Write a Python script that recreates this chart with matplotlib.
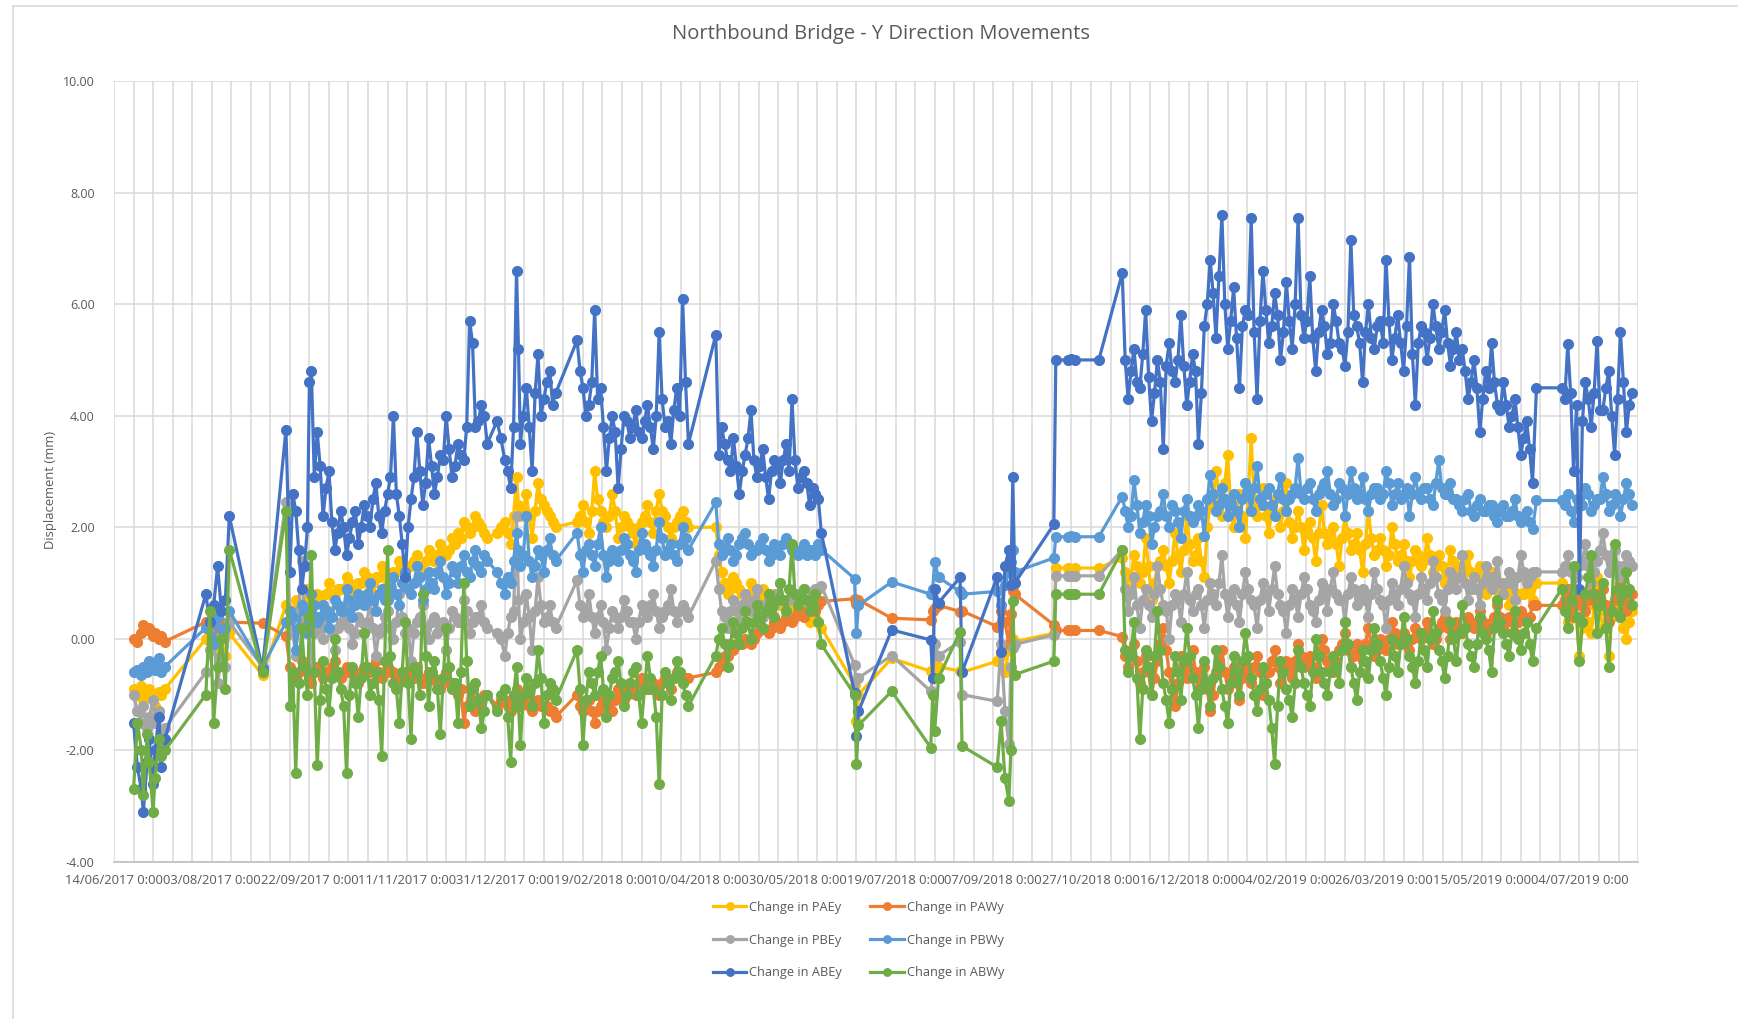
import datetime as dt
import matplotlib
matplotlib.use("Agg")
import matplotlib.pyplot as plt
import matplotlib.dates as mdates
import pandas as pd
from matplotlib.lines import Line2D
from matplotlib.ticker import FixedLocator, FuncFormatter

# Survey epoch; reading times are given in days after it
start = dt.datetime(2017, 6, 14)

# ---- morning readings ----
day_offset = [
    10, 12, 14, 15, 17, 18, 20, 21, 23, 24, 26,
    47, 49, 51, 53, 55, 57, 59,
    76,
    88, 90, 93, 96, 99, 101, 104, 107, 110, 113, 116, 119, 122, 125, 128, 131, 134, 137,
    140, 143, 146, 149, 152, 155, 158, 161, 164, 167, 170, 173, 176, 179, 182, 185, 188, 191,
    196, 200, 203, 206, 208, 211, 214, 217, 220, 223, 226,
    237, 240, 243, 246, 249, 252, 255, 258, 261, 264, 267, 270, 273, 276, 279, 282, 285, 288, 291, 294,
    308, 311, 314, 317, 320, 323, 326, 329, 332, 335, 338, 341, 344, 347, 350, 353, 356, 359, 362,
    379, 380, 381, 398, 418, 419, 420, 422, 433, 434, 452, 454, 456, 458, 459, 460, 461,
    481, 482, 488, 490, 492, 504,
    516, 519, 522, 525, 528, 531, 534, 537, 540, 543, 546, 549, 552, 555, 558, 561, 564, 567,
    570, 573, 576, 579, 582, 585, 588, 591, 594, 597, 600, 603, 606, 609, 612, 615, 618, 621,
    624, 627, 630, 633, 636, 639, 642, 645, 648, 651, 654, 657, 660, 663, 666, 669, 672, 675,
    678, 681, 684, 687, 690, 693, 696, 699, 702, 705, 708, 711, 714, 717, 720, 723, 726, 728,
    741, 744, 747, 750, 753, 756, 759, 762, 765, 768, 771, 774, 777,
]

pae_y = [
    -0.9, -1.0, -0.85, -1.1, -0.95, -0.9, -1.05, -1.2, -0.95, -1.0, -0.9,
    0.0, 0.1, -0.2, 0.2, 0.0, -0.3, 0.1,
    -0.65,
    0.6, 0.2, 0.7, 0.4, 0.9, 0.3, 0.8, 0.6, 1.0, 0.8, 0.9, 1.1, 0.8, 1.0, 1.2, 0.9, 1.1, 1.3,
    1.0, 1.2, 1.4, 1.1, 1.3, 1.5, 1.2, 1.6, 1.4, 1.7, 1.5, 1.8, 1.9, 2.1, 1.9, 2.2, 2.0, 1.8,
    1.9, 2.1, 1.7, 2.9, 2.2, 2.6, 1.8, 2.8, 2.4, 2.2, 2.0,
    2.1, 2.4, 1.9, 3.0, 2.3, 2.0, 2.6, 1.8, 2.2, 2.0, 1.7, 2.1, 2.4, 1.9, 2.6, 2.2, 1.8, 2.1, 2.3, 2.0,
    2.0, 1.2, 0.8, 1.1, 0.9, 0.6, 1.0, 0.7, 0.9, 0.5, 0.8, 0.6, 0.7, 0.4, 0.6, 0.5, 0.3, 0.4, 0.2,
    -0.82, -1.48, -1.0, -0.35, -0.58, -0.6, -0.45, -0.5, -0.58, -0.6, -0.4, -0.3, -0.6, -0.2, -0.1, 0.0, -0.05,
    0.1, 1.27, 1.27, 1.26, 1.27, 1.27,
    1.45, 0.8, 1.5, 1.0, 1.8, 0.7, 1.3, 1.6, 1.0, 1.9, 1.2, 2.2, 1.4, 1.8, 1.1, 2.4, 3.0, 2.2,
    3.3, 2.0, 2.6, 1.8, 3.6, 2.2, 2.7, 1.9, 2.5, 2.0, 2.8, 1.8, 2.3, 1.6, 2.1, 1.4, 2.4, 1.7,
    2.0, 1.3, 2.2, 1.6, 1.9, 1.2, 2.3, 1.5, 1.8, 1.3, 2.0, 1.4, 1.7, 1.1, 1.6, 1.3, 1.8, 1.2,
    1.5, 1.0, 1.6, 1.3, 1.1, 1.5, 0.9, 1.3, 0.8, 1.2, 0.7, 1.0, 0.6, 1.1, 0.8, 0.9, 0.7, 1.0,
    1.0, 0.3, 0.9, -0.3, 0.6, 0.1, 1.1, 0.2, -0.3, 0.7, 0.4, 0.0, 0.5,
]

paw_y = [
    0.0, -0.05, 0.1, 0.25, 0.15, 0.2, 0.05, 0.1, 0.0, 0.05, -0.05,
    0.3, 0.25, 0.3, 0.2, 0.3, 0.25, 0.3,
    0.28,
    0.05, -0.5, -0.7, -0.4, -0.6, -0.8, -0.5, -0.7, -0.6, -0.4, -0.7, -0.5, -0.6, -0.8, -0.5, -0.6, -0.4, -0.7,
    -0.5, -0.6, -0.8, -0.6, -0.7, -0.5, -0.8, -0.6, -0.7, -0.9, -0.6, -0.8, -1.0, -1.5, -0.9, -1.3, -1.1, -1.0,
    -1.2, -1.1, -1.3, -0.9, -1.2, -1.0, -1.3, -1.1, -1.2, -1.3, -1.4,
    -1.0, -1.3, -1.1, -1.5, -1.2, -1.0, -1.3, -0.9, -1.1, -0.8, -1.0, -0.7, -0.9, -0.8, -1.0, -0.7, -0.9, -0.6, -0.8, -0.7,
    -0.6, -0.4, -0.3, -0.2, -0.1, 0.0, -0.1, 0.1, 0.2, 0.1, 0.3, 0.2, 0.4, 0.3, 0.5, 0.4, 0.6, 0.5, 0.67,
    0.72, 0.62, 0.7, 0.37, 0.34, 0.5, 0.55, 0.6, 0.49, 0.5, 0.22, 0.5, 0.3, -0.1, 0.45, 0.85, 0.8,
    0.25, 0.15, 0.15, 0.15, 0.15, 0.15,
    0.04, -0.5, -0.1, -0.8, -0.3, -1.0, -0.4, 0.2, -0.6, -1.2, -0.3, -0.7, -0.2, -0.9, -0.5, -1.3, -0.6, -0.2,
    -0.9, -0.5, -1.1, -0.4, -0.8, -0.3, -1.0, -0.6, -0.2, -0.8, -0.4, -0.7, -0.1, -0.5, -0.3, -0.7, 0.0, -0.4,
    -0.6, -0.2, 0.1, -0.5, -0.1, -0.4, 0.2, -0.3, 0.0, -0.2, 0.3, -0.1, 0.1, -0.2, 0.2, 0.0, 0.3, -0.1,
    0.2, 0.4, 0.0, 0.3, 0.1, 0.4, 0.2, 0.5, 0.1, 0.3, 0.6, 0.2, 0.4, 0.1, 0.5, 0.3, 0.6, 0.6,
    0.6, 0.9, 0.4, 0.8, 0.5, 1.0, 0.6, 0.9, 0.3, 0.7, 1.0, 0.5, 0.8,
]

pbe_y = [
    -1.0, -1.3, -1.5, -1.2, -1.6, -1.4, -1.1, -1.5, -1.3, -1.7, -1.6,
    -0.6, -0.2, 0.0, -0.8, -0.3, -0.5, 0.3,
    -0.5,
    2.45, 0.3, -0.3, 1.4, 0.2, -0.5, 0.4, 0.0, 0.5, -0.2, 0.3, 0.6, -0.1, 0.4, 0.1, 0.7, -0.3, 0.2,
    0.5, 0.0, 0.8, 0.1, -0.4, 0.3, 0.6, 0.0, 0.4, 0.2, -0.2, 0.5, 0.3, 0.7, 0.1, 0.4, 0.6, 0.2,
    0.1, -0.3, 0.4, 2.2, 0.0, 0.8, -0.2, 1.1, 0.3, 0.6, 0.2,
    1.05, 0.4, 0.8, 0.1, 0.6, -0.2, 0.5, 0.2, 0.7, 0.3, 0.0, 0.6, 0.4, 0.8, 0.2, 0.5, 0.9, 0.3, 0.6, 0.4,
    1.4, 0.5, 0.2, 0.7, 0.3, 0.8, 0.5, 0.9, 0.4, 0.7, 0.6, 1.0, 0.5, 0.8, 0.7, 0.9, 0.6, 0.9, 0.95,
    -0.46, -1.0, -0.7, -0.3, -0.94, -0.7, -0.1, -0.3, -0.05, -1.0, -1.12, -0.1, -1.3, -1.89, -0.5, -0.17, -0.1,
    0.07, 1.13, 1.13, 1.13, 1.13, 1.13,
    1.6, 0.5, 1.1, 0.2, 0.9, 0.4, 1.3, 0.6, 0.0, 0.8, 0.3, 1.2, 0.5, 0.9, 0.2, 1.0, 0.6, 1.5,
    0.4, 0.9, 0.3, 1.2, 0.7, 0.2, 1.0, 0.5, 1.3, 0.6, 0.1, 0.9, 0.4, 1.1, 0.6, 0.3, 1.0, 0.5,
    1.2, 0.7, 0.3, 1.1, 0.6, 0.9, 0.4, 1.2, 0.7, 0.2, 1.0, 0.6, 1.3, 0.8, 0.4, 1.1, 0.7, 1.4,
    0.8, 0.5, 1.2, 0.9, 1.5, 0.7, 1.1, 0.6, 1.3, 0.9, 1.4, 0.8, 1.2, 0.7, 1.5, 1.0, 1.2, 1.2,
    1.2, 1.5, 0.9, 1.3, 1.7, 1.0, 1.4, 1.9, 1.2, 1.6, 1.1, 1.5, 1.3,
]

pbw_y = [
    -0.6, -0.55, -0.65, -0.5, -0.6, -0.4, -0.45, -0.55, -0.35, -0.6, -0.5,
    0.2, 0.3, -0.1, 0.4, 0.0, 0.2, 0.5,
    -0.5,
    0.3, 0.5, -0.2, 0.6, 0.1, 0.8, 0.3, 0.6, 0.2, 0.7, 0.5, 0.9, 0.4, 0.8, 0.6, 1.0, 0.5, 0.9,
    0.7, 1.1, 0.6, 1.2, 0.8, 1.3, 0.7, 1.2, 0.9, 1.4, 0.8, 1.3, 1.0, 1.5, 1.1, 1.6, 1.2, 1.4,
    1.2, 0.8, 1.0, 1.9, 1.3, 2.2, 1.1, 1.6, 1.2, 1.8, 1.4,
    1.9, 1.2, 1.7, 1.3, 2.0, 1.1, 1.6, 1.4, 1.8, 1.5, 1.2, 1.9, 1.6, 1.3, 2.1, 1.5, 1.7, 1.4, 2.0, 1.6,
    2.45, 1.5, 1.8, 1.4, 1.7, 1.9, 1.5, 1.6, 1.8, 1.4, 1.7, 1.5, 1.8, 1.6, 1.5, 1.7, 1.6, 1.5, 1.6,
    1.08, 0.1, 0.6, 1.02, 0.8, 0.9, 1.38, 1.1, 0.85, 0.8, 0.85, 0.6, 0.96, 1.2, 1.38, 1.6, 1.2,
    1.45, 1.83, 1.83, 1.84, 1.83, 1.83,
    2.55, 2.0, 2.84, 1.9, 2.4, 1.7, 2.2, 2.6, 2.0, 2.3, 1.8, 2.5, 2.1, 2.4, 1.85, 2.93, 2.3, 2.7,
    2.2, 2.6, 2.0, 2.8, 2.3, 3.1, 2.4, 2.7, 2.2, 2.9, 2.3, 2.6, 3.25, 2.5, 2.8, 2.3, 2.7, 3.0,
    2.4, 2.8, 2.2, 3.0, 2.5, 2.9, 2.3, 2.7, 2.5, 3.0, 2.4, 2.8, 2.6, 2.2, 2.9, 2.5, 2.7, 2.4,
    3.2, 2.6, 2.8, 2.5, 2.3, 2.6, 2.2, 2.5, 2.3, 2.4, 2.1, 2.4, 2.2, 2.5, 2.1, 2.3, 1.97, 2.48,
    2.48, 2.6, 2.1, 2.4, 2.7, 2.3, 2.5, 2.9, 2.3, 2.6, 2.2, 2.8, 2.4,
]

abe_y = [
    -1.5, -2.3, -2.7, -3.1, -2.2, -1.8, -2.6, -2.0, -1.4, -2.3, -1.8,
    0.8, 0.3, 0.6, 1.3, 0.5, 0.7, 2.2,
    -0.55,
    3.75, 1.2, 2.3, 0.9, 2.0, 4.8, 3.7, 2.2, 3.0, 1.6, 2.3, 1.5, 2.1, 1.7, 2.4, 2.0, 2.8, 1.9,
    2.6, 4.0, 2.2, 1.1, 2.5, 3.7, 2.4, 3.6, 2.6, 3.3, 4.0, 2.9, 3.5, 3.2, 5.7, 3.8, 4.2, 3.5,
    3.9, 3.2, 2.7, 6.6, 3.5, 4.5, 3.0, 5.1, 4.3, 4.8, 4.4,
    5.35, 4.5, 4.2, 5.9, 4.5, 3.0, 4.0, 2.7, 4.0, 3.6, 4.1, 3.6, 4.2, 3.4, 5.5, 3.8, 3.5, 4.5, 6.1, 3.5,
    5.45, 3.8, 3.2, 3.6, 2.6, 3.3, 4.1, 2.9, 3.4, 2.5, 3.2, 2.8, 3.5, 4.3, 2.7, 3.0, 2.4, 2.6, 1.9,
    -0.97, -1.74, -1.3, 0.16, -0.02, -0.7, 0.9, 0.65, 1.1, -0.6, 1.11, -0.23, 1.3, 1.6, 0.96, 2.9, 1.0,
    2.05, 5.0, 5.0, 5.02, 5.0, 5.0,
    6.55, 4.3, 5.2, 4.5, 5.9, 3.9, 5.0, 3.4, 5.3, 4.6, 5.8, 4.2, 5.1, 3.5, 5.6, 6.8, 5.4, 7.6,
    5.2, 6.3, 4.5, 5.9, 7.55, 4.3, 6.6, 5.3, 6.2, 5.0, 6.4, 5.2, 7.55, 5.4, 6.5, 4.8, 5.9, 5.1,
    6.0, 5.3, 4.9, 7.15, 5.6, 4.6, 6.0, 5.2, 5.7, 6.8, 5.0, 5.8, 4.8, 6.85, 4.2, 5.6, 5.0, 6.0,
    5.2, 5.9, 4.9, 5.5, 5.2, 4.3, 5.0, 3.7, 4.8, 5.3, 4.2, 4.6, 3.8, 4.3, 3.3, 3.9, 2.8, 4.5,
    4.5, 5.28, 3.0, 0.9, 4.6, 3.8, 5.34, 4.1, 4.8, 3.3, 5.5, 3.7, 4.4,
]

abw_y = [
    -2.7, -1.5, -2.0, -2.8, -1.7, -2.2, -3.1, -2.5, -1.8, -2.1, -2.0,
    -1.0, 0.5, -1.5, -0.5, 0.0, -0.9, 1.6,
    -0.6,
    2.3, -1.2, -2.4, 0.2, -1.0, 1.5, -2.27, -0.4, -1.3, 0.0, -0.9, -2.4, -0.5, -1.4, 0.1, -1.0, -0.6, -2.1,
    1.6, -0.8, -1.5, 0.3, -1.8, -0.6, 0.8, -1.2, -0.4, -1.7, 0.2, -0.9, -1.5, 1.0, -1.2, -0.8, -1.6, -1.0,
    -1.3, -0.9, -2.2, -0.5, -1.9, -0.7, -1.2, -0.2, -1.5, -0.8, -1.1,
    -0.2, -1.9, -0.6, -1.0, -0.3, -1.4, -0.7, -0.4, -1.2, -0.8, -0.5, -1.5, -0.3, -0.9, -2.6, -0.6, -1.1, -0.4, -0.8, -1.2,
    -0.3, 0.2, -0.5, 0.3, -0.1, 0.5, 0.0, 0.6, 0.2, 0.8, 0.4, 1.0, 0.5, 1.7, 0.6, 0.9, 0.5, 0.8, -0.1,
    -1.0, -2.25, -1.55, -0.94, -1.95, -1.0, -1.65, -0.7, 0.13, -1.92, -2.3, -1.48, -2.5, -2.9, -2.0, 0.67, -0.64,
    -0.4, 0.8, 0.8, 0.8, 0.8, 0.8,
    1.59, -0.6, 0.3, -1.8, -0.2, -1.0, 0.5, -0.8, -1.5, -0.3, -1.1, 0.2, -0.7, -1.6, -0.4, -1.2, -0.2, -0.9,
    -1.5, -0.3, -1.0, 0.1, -0.7, -1.3, -0.5, -1.1, -2.25, -0.4, -0.9, -1.4, -0.2, -0.8, -1.2, 0.0, -0.6, -1.0,
    -0.3, -0.8, 0.3, -0.5, -1.1, -0.2, -0.7, 0.2, -0.4, -1.0, 0.0, -0.6, 0.4, -0.3, -0.8, 0.1, -0.5, 0.5,
    -0.2, -0.7, 0.3, -0.4, 0.6, -0.1, -0.5, 0.4, 0.0, -0.6, 0.7, 0.1, -0.3, 0.5, -0.2, 0.3, -0.4, 0.2,
    0.9, 0.2, 1.3, -0.4, 0.8, 1.5, 0.1, 1.0, -0.5, 1.7, 0.4, 1.2, 0.6,
]

# ---- afternoon readings on the busier survey days ----
day_offset_pm = [
    91.5, 94.5, 97.5, 100, 102.5, 105.5, 108.5, 111.5, 114.5, 117.5, 120.5, 123.5, 126.5, 129.5,
    132.5, 135.5, 138.5, 141.5, 144.5, 147.5, 150.5, 153.5, 156.5, 159.5, 162.5, 165.5, 168.5,
    171.5, 174.5, 177.5, 180.5, 183.5, 186.5, 189.5,
    198, 201.5, 204.5, 207, 209.5, 212.5, 215.5, 218.5, 221.5, 224.5,
    238.5, 241.5, 244.5, 247.5, 250.5, 253.5, 256.5, 259.5, 262.5, 265.5, 268.5, 271.5, 274.5,
    277.5, 280.5, 283.5, 286.5, 289.5, 292.5,
    309.5, 312.5, 315.5, 318.5, 321.5, 324.5, 327.5, 330.5, 333.5, 336.5, 339.5, 342.5, 345.5,
    348.5, 351.5, 354.5, 357.5, 360.5,
    517.5, 520.5, 523.5, 526.5, 529.5, 532.5, 535.5, 538.5, 541.5, 544.5,
    547.5, 550.5, 553.5, 556.5, 559.5, 562.5, 565.5, 568.5, 571.5, 574.5,
    577.5, 580.5, 583.5, 586.5, 589.5, 592.5, 595.5, 598.5, 601.5, 604.5,
    607.5, 610.5, 613.5, 616.5, 619.5, 622.5, 625.5, 628.5, 631.5, 634.5,
    637.5, 640.5, 643.5, 646.5, 649.5, 652.5, 655.5, 658.5, 661.5, 664.5,
    667.5, 670.5, 673.5, 676.5, 679.5, 682.5, 685.5, 688.5, 691.5, 694.5,
    697.5, 700.5, 703.5, 706.5, 709.5, 712.5, 715.5, 718.5, 721.5, 724.5,
    742.5, 745.5, 748.5, 751.5, 754.5, 757.5, 760.5, 763.5, 766.5, 769.5, 772.5, 775.5,
]

pae_y_pm = [
    0.5, 0.6, 0.5, 0.7, 0.6, 0.7, 0.8, 0.8, 0.9, 0.9, 1.0, 0.9, 1.0, 1.1, 1.0, 1.1, 1.2,
    1.1, 1.2, 1.3, 1.3, 1.4, 1.3, 1.4, 1.5, 1.5, 1.6, 1.6, 1.7, 1.8, 2.0, 2.0, 2.1, 1.9,
    2.0, 1.9, 2.2, 2.4, 2.3, 2.2, 2.3, 2.5, 2.3, 2.1,
    2.2, 2.1, 2.3, 2.5, 2.1, 2.2, 2.3, 2.0, 2.1, 1.9, 2.0, 2.2, 2.1, 2.3, 2.3, 2.0, 2.0, 2.2, 2.1,
    1.5, 1.0, 0.9, 1.0, 0.8, 0.8, 0.8, 0.8, 0.7, 0.7, 0.7, 0.6, 0.6, 0.5, 0.5, 0.4, 0.4, 0.3,
    1.2, 1.1, 1.3, 1.2, 1.3, 1.0, 1.4, 1.3, 1.4, 1.5,
    1.6, 1.7, 1.5, 1.4, 2.0, 2.5, 2.6, 2.8, 2.4, 2.3,
    2.2, 2.6, 2.5, 2.4, 2.2, 2.3, 2.2, 2.3, 2.1, 2.0,
    2.0, 1.9, 1.8, 1.9, 1.9, 1.8, 1.7, 1.8, 1.9, 1.7,
    1.6, 1.7, 1.8, 1.6, 1.6, 1.5, 1.7, 1.5, 1.4, 1.4,
    1.5, 1.4, 1.5, 1.3, 1.3, 1.2, 1.4, 1.2, 1.3, 1.2,
    1.1, 1.0, 1.0, 0.9, 0.9, 0.8, 0.9, 0.8, 0.8, 0.9,
    0.6, 0.5, 0.4, 0.2, 0.3, 0.6, 0.5, 0.3, 0.4, 0.5, 0.2, 0.3,
]

paw_y_pm = [
    -0.6, -0.6, -0.5, -0.7, -0.6, -0.6, -0.6, -0.5, -0.6, -0.6, -0.6, -0.7, -0.6, -0.6, -0.5, -0.6, -0.6,
    -0.6, -0.7, -0.7, -0.6, -0.7, -0.7, -0.7, -0.7, -0.8, -0.7, -0.8, -0.9, -0.9, -1.2, -1.1, -1.2, -1.0,
    -1.1, -1.2, -1.1, -1.1, -1.1, -1.2, -1.2, -1.2, -1.2, -1.3,
    -1.2, -1.2, -1.3, -1.3, -1.1, -1.2, -1.1, -1.0, -0.9, -0.9, -0.8, -0.8, -0.9, -0.9, -0.8, -0.8, -0.7, -0.7, -0.7,
    -0.5, -0.3, -0.2, -0.1, -0.1, -0.05, 0.0, 0.15, 0.15, 0.2, 0.25, 0.3, 0.35, 0.4, 0.45, 0.5, 0.55, 0.6,
    -0.3, -0.3, -0.4, -0.6, -0.6, -0.7, -0.1, -0.2, -0.9, -0.8,
    -0.5, -0.5, -0.6, -0.7, -0.9, -1.0, -0.4, -0.6, -0.7, -0.8,
    -0.7, -0.6, -0.5, -0.6, -0.8, -0.4, -0.5, -0.6, -0.5, -0.4,
    -0.3, -0.4, -0.5, -0.3, -0.2, -0.5, -0.4, -0.1, -0.2, -0.3,
    -0.2, -0.1, -0.1, -0.2, -0.1, 0.0, 0.1, 0.0, -0.1, 0.0,
    0.1, 0.1, 0.1, 0.0, 0.3, 0.2, 0.1, 0.2, 0.2, 0.3,
    0.3, 0.3, 0.2, 0.4, 0.4, 0.3, 0.3, 0.3, 0.4, 0.4,
    0.7, 0.6, 0.6, 0.7, 0.7, 0.8, 0.7, 0.6, 0.5, 0.8, 0.7, 0.6,
]

pbe_y_pm = [
    0.1, 0.5, 0.3, 0.2, 0.1, 0.2, 0.3, 0.1, 0.2, 0.3, 0.2, 0.1, 0.3, 0.3, 0.2, 0.1, 0.4,
    0.2, 0.3, 0.4, 0.2, 0.1, 0.4, 0.2, 0.3, 0.1, 0.3, 0.2, 0.4, 0.3, 0.5, 0.3, 0.4, 0.3,
    0.0, 0.1, 0.5, 0.7, 0.3, 0.4, 0.5, 0.6, 0.4, 0.3,
    0.6, 0.5, 0.4, 0.4, 0.3, 0.2, 0.4, 0.4, 0.5, 0.3, 0.3, 0.5, 0.6, 0.5, 0.4, 0.6, 0.5, 0.5, 0.5,
    0.9, 0.4, 0.5, 0.5, 0.6, 0.6, 0.7, 0.6, 0.6, 0.6, 0.8, 0.7, 0.7, 0.8, 0.8, 0.7, 0.8, 0.9,
    0.9, 0.8, 0.6, 0.7, 0.6, 0.8, 0.9, 0.5, 0.6, 0.7,
    0.8, 0.7, 0.8, 0.6, 0.7, 0.8, 1.0, 0.8, 0.7, 0.6,
    0.8, 0.9, 0.6, 0.7, 0.8, 0.9, 0.8, 0.5, 0.6, 0.7,
    0.8, 0.9, 0.5, 0.7, 0.8, 0.9, 0.8, 0.7, 0.8, 0.9,
    0.8, 0.7, 0.8, 0.9, 0.6, 0.7, 0.8, 0.9, 1.0, 0.7,
    0.8, 0.9, 1.0, 1.1, 0.7, 0.9, 1.0, 1.1, 1.0, 0.9,
    0.9, 1.0, 1.1, 1.1, 1.0, 1.0, 1.0, 1.1, 1.2, 1.1,
    1.3, 1.2, 1.1, 1.4, 1.3, 1.2, 1.6, 1.5, 1.4, 1.3, 1.3, 1.4,
]

pbw_y_pm = [
    0.4, 0.2, 0.5, 0.3, 0.6, 0.4, 0.5, 0.4, 0.6, 0.5, 0.7, 0.6, 0.7, 0.8, 0.7, 0.8, 0.7,
    0.9, 0.8, 1.0, 0.9, 1.0, 1.1, 0.9, 1.0, 1.2, 1.1, 1.0, 1.2, 1.3, 1.2, 1.4, 1.3, 1.5,
    1.0, 1.1, 1.4, 1.6, 1.5, 1.4, 1.3, 1.5, 1.6, 1.5,
    1.5, 1.6, 1.5, 1.7, 1.5, 1.4, 1.5, 1.6, 1.7, 1.4, 1.6, 1.7, 1.5, 1.6, 1.8, 1.6, 1.5, 1.7, 1.8,
    1.7, 1.6, 1.6, 1.5, 1.8, 1.7, 1.6, 1.7, 1.6, 1.5, 1.6, 1.7, 1.7, 1.6, 1.6, 1.5, 1.6, 1.7,
    2.3, 2.2, 2.4, 2.1, 2.2, 2.0, 2.3, 2.2, 2.4, 2.1,
    2.3, 2.2, 2.2, 2.3, 2.5, 2.6, 2.4, 2.5, 2.4, 2.3,
    2.5, 2.6, 2.7, 2.5, 2.6, 2.4, 2.6, 2.5, 2.5, 2.7,
    2.6, 2.7, 2.5, 2.6, 2.8, 2.6, 2.5, 2.7, 2.6, 2.7,
    2.6, 2.5, 2.6, 2.7, 2.6, 2.8, 2.6, 2.5, 2.7, 2.6,
    2.6, 2.7, 2.5, 2.8, 2.7, 2.6, 2.5, 2.4, 2.5, 2.3,
    2.4, 2.3, 2.4, 2.2, 2.3, 2.2, 2.3, 2.2, 2.2, 2.1,
    2.4, 2.3, 2.5, 2.4, 2.6, 2.4, 2.5, 2.6, 2.4, 2.5, 2.5, 2.6,
]

abe_y_pm = [
    2.6, 1.6, 1.3, 4.6, 2.9, 3.1, 2.7, 2.1, 1.9, 2.0, 1.8, 2.3, 2.0, 2.2, 2.5, 2.2, 2.3,
    2.9, 2.6, 1.7, 2.0, 2.9, 3.0, 2.8, 3.1, 2.9, 3.2, 3.4, 3.1, 3.3, 3.8, 5.3, 3.9, 4.0,
    3.6, 3.0, 3.8, 5.2, 4.0, 3.8, 4.4, 4.0, 4.6, 4.2,
    4.8, 4.0, 4.6, 4.3, 3.8, 3.6, 3.7, 3.4, 3.9, 3.8, 3.7, 3.9, 3.8, 4.0, 4.3, 3.9, 4.1, 4.0, 4.6,
    3.3, 3.5, 3.0, 3.1, 3.0, 3.6, 3.2, 3.1, 2.9, 3.0, 3.1, 3.2, 3.0, 3.2, 2.9, 2.8, 2.7, 2.5,
    5.0, 4.8, 4.6, 5.1, 4.7, 4.4, 4.6, 4.9, 4.8, 5.0,
    4.9, 4.6, 4.8, 4.4, 6.0, 6.2, 6.5, 6.0, 5.7, 5.4,
    5.6, 5.8, 5.5, 5.7, 5.9, 5.6, 5.8, 5.5, 5.7, 6.0,
    5.8, 5.7, 5.4, 5.5, 5.6, 5.3, 5.7, 5.2, 5.5, 5.8,
    5.3, 5.5, 5.4, 5.6, 5.3, 5.7, 5.4, 5.3, 5.6, 5.1,
    5.3, 5.5, 5.4, 5.6, 5.5, 5.3, 5.2, 5.0, 4.8, 4.6,
    4.5, 4.3, 4.5, 4.6, 4.1, 4.2, 4.0, 3.8, 3.6, 3.4,
    4.3, 4.4, 4.2, 3.9, 4.3, 4.4, 4.1, 4.5, 4.0, 4.3, 4.6, 4.2,
]

abw_y_pm = [
    -0.6, -0.8, -0.5, 0.4, -0.6, -1.1, -0.9, -0.7, -0.6, -1.2, -1.0, -0.8, -0.7, -0.5, -0.8, -1.1, -0.4,
    -0.3, -0.9, -0.6, -0.8, -0.5, -1.0, -0.3, -0.6, -0.9, -0.7, -0.5, -0.8, -0.6, -0.4, -0.9, -1.1, -1.3,
    -1.0, -1.4, -1.0, -1.2, -1.0, -0.9, -0.8, -0.7, -1.0, -0.9,
    -0.9, -1.1, -0.8, -0.6, -0.9, -1.0, -0.6, -0.8, -1.0, -0.6, -1.0, -0.9, -0.7, -1.4, -1.0, -0.8, -0.7, -0.6, -1.0,
    0.0, -0.1, -0.1, 0.1, 0.2, 0.3, 0.3, 0.4, 0.5, 0.6, 0.7, 0.7, 0.9, 0.8, 0.7, 0.7, 0.6, 0.3,
    -0.2, -0.3, -0.7, -0.9, -0.5, -0.3, -0.2, -1.1, -0.9, -0.6,
    -0.4, -0.3, -1.0, -0.9, -0.8, -0.7, -0.5, -1.2, -0.8, -0.6,
    -0.4, -0.3, -1.0, -0.9, -0.8, -1.6, -1.2, -0.6, -1.1, -0.8,
    -0.5, -1.0, -0.6, -0.3, -0.8, -0.6, -0.5, -0.2, -0.1, -0.8,
    -0.6, -0.4, -0.2, -0.1, -0.7, -0.5, -0.3, -0.1, 0.0, -0.5,
    -0.4, -0.2, 0.0, 0.1, -0.4, -0.3, 0.0, 0.1, 0.2, -0.3,
    -0.1, 0.1, -0.2, 0.2, 0.3, -0.1, 0.1, 0.0, 0.1, -0.1,
    0.5, 0.7, 0.4, 0.3, 1.1, 0.8, 0.6, 0.2, 0.5, 0.9, 0.8, 0.9,
]

series_names = ["Change in PAEy", "Change in PAWy", "Change in PBEy",
                "Change in PBWy", "Change in ABEy", "Change in ABWy"]
series_colors = ["#FFC000", "#ED7D31", "#A5A5A5", "#5B9BD5", "#4472C4", "#70AD47"]

y_ticks = [-4, -2, 0, 2, 4, 6, 8, 10]
label_step_days = 50
grid_step_days = 10
axis_span_days = 780

# combine both reading sets into one time-ordered table
am = pd.DataFrame({"day": day_offset, "PAEy": pae_y, "PAWy": paw_y, "PBEy": pbe_y,
                   "PBWy": pbw_y, "ABEy": abe_y, "ABWy": abw_y})
pm = pd.DataFrame({"day": day_offset_pm, "PAEy": pae_y_pm, "PAWy": paw_y_pm,
                   "PBEy": pbe_y_pm, "PBWy": pbw_y_pm, "ABEy": abe_y_pm,
                   "ABWy": abw_y_pm})
readings = pd.concat([am, pm]).sort_values("day", kind="stable").reset_index(drop=True)

font = "Open Sans"
text_grey = "#595959"
grid_grey = "#D9D9D9"

fig = plt.figure(figsize=(17.38, 10.19), dpi=100)
ax = fig.add_axes([0.0656, 0.1541, 0.8769, 0.7664])

x0 = mdates.date2num(start)
xs = x0 + readings["day"].to_numpy()

handles = {}
for name, col in zip(series_names, series_colors):
    key = name.split()[-1]
    (ln,) = ax.plot(xs, readings[key].to_numpy(), color=col, lw=2.3, marker="o",
                    ms=8.0, markeredgewidth=0, label=name, zorder=3)
    handles[name] = ln

ax.set_xlim(x0, x0 + axis_span_days)
ax.set_ylim(-4, 10)
ax.set_yticks(y_ticks)
ax.yaxis.set_major_formatter(FuncFormatter(lambda v, p: f"{v:.2f}"))

major = [x0 + k * label_step_days for k in range(axis_span_days // label_step_days + 1)]
minor = [x0 + k * grid_step_days for k in range(axis_span_days // grid_step_days + 1)]
ax.xaxis.set_major_locator(FixedLocator(major))
ax.xaxis.set_minor_locator(FixedLocator(minor))
ax.xaxis.set_major_formatter(FuncFormatter(
    lambda v, p: mdates.num2date(v).strftime("%d/%m/%Y") + " 0:00"))

ax.grid(True, which="both", axis="x", color=grid_grey, lw=1.1, zorder=0)
ax.grid(True, which="major", axis="y", color=grid_grey, lw=1.1, zorder=0)
ax.set_axisbelow(True)
for side in ("top", "right", "left"):
    ax.spines[side].set_visible(False)
ax.spines["bottom"].set_color("#BFBFBF")
ax.spines["bottom"].set_linewidth(1.2)

ax.tick_params(axis="both", which="both", length=0, colors=text_grey)
ax.tick_params(axis="y", pad=14, labelsize=9)
ax.tick_params(axis="x", pad=9, labelsize=9.4)
for lbl in ax.get_xticklabels() + ax.get_yticklabels():
    lbl.set_fontfamily(font)

fig.text(0.507, 0.9665, "Northbound Bridge - Y Direction Movements",
         ha="center", va="center", fontsize=14.5, color=text_grey, family=font)
fig.text(0.0288, 0.519, "Displacement (mm)", rotation=90, ha="center",
         va="center", fontsize=9.4, color=text_grey, family=font)

order = ["Change in PAEy", "Change in PBEy", "Change in ABEy",
         "Change in PAWy", "Change in PBWy", "Change in ABWy"]
leg = fig.legend([handles[n] for n in order], order, loc="center",
                 bbox_to_anchor=(0.494, 0.0775), ncol=2, frameon=False,
                 prop={"family": font, "size": 9.2}, labelcolor=text_grey,
                 handlelength=2.6, handletextpad=0.25, columnspacing=2.2,
                 labelspacing=1.55, markerscale=0.8)

# chart-area frame (left and top edges)
fig.add_artist(Line2D([13 / 1738, 13 / 1738], [0.0, 1 - 6 / 1019],
                      transform=fig.transFigure, color=grid_grey, lw=1.2))
fig.add_artist(Line2D([13 / 1738, 1.0], [1 - 6 / 1019, 1 - 6 / 1019],
                      transform=fig.transFigure, color=grid_grey, lw=1.2))

fig.savefig("out.png", dpi=100, facecolor="white")
